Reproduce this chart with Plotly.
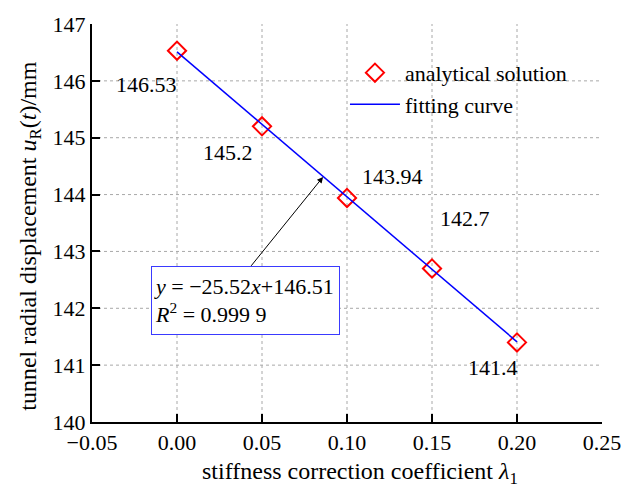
import plotly.graph_objects as go

# ---- data ----
lam = [0.00, 0.05, 0.10, 0.15, 0.20]
u_r = [146.53, 145.2, 143.94, 142.7, 141.4]
labels = ["146.53", "145.2", "143.94", "142.7", "141.4"]
fit_x = [0.00, 0.20]
fit_y = [146.51, 141.41]
x_ticks = [-0.05, 0.00, 0.05, 0.10, 0.15, 0.20, 0.25]
y_ticks = [140, 141, 142, 143, 144, 145, 146, 147]
x_grid = [0.00, 0.05, 0.10, 0.15, 0.20]
y_grid = [141, 142, 143, 144, 145, 146]
x_title = "stiffness correction coefficient <i>λ</i><sub>1</sub>"
y_title = "tunnel radial displacement <i>u</i><sub>R</sub>(<i>t</i>)/mm"

# label pixel offsets (style)
label_shift = [(-31, -34), (-34, -26), (45, 21), (33, 50), (-24, -25)]

FONT = "Liberation Serif, Times New Roman, serif"
FS = 22

fig = go.Figure()

# dashed grid lines
for xv in x_grid:
    fig.add_shape(type="line", x0=xv, x1=xv, y0=0, y1=1, xref="x", yref="paper",
                  line=dict(color="#a8a8a8", width=1, dash="3px,3px"), layer="below")
for yv in y_grid:
    fig.add_shape(type="line", x0=0, x1=1, y0=yv, y1=yv, xref="paper", yref="y",
                  line=dict(color="#a8a8a8", width=1, dash="3px,3px"), layer="below")

fig.add_trace(go.Scatter(
    x=lam, y=u_r, mode="markers", name="analytical solution",
    marker=dict(symbol="diamond-open", size=14, color="#ff0000",
                line=dict(width=2, color="#ff0000")),
))
fig.add_trace(go.Scatter(
    x=fit_x, y=fit_y, mode="lines", name="fitting curve",
    line=dict(color="#0000ff", width=1.5),
))

for xv, yv, t, (dx, dy) in zip(lam, u_r, labels, label_shift):
    fig.add_annotation(x=xv, y=yv, text=t, showarrow=False,
                       xshift=dx, yshift=dy,
                       font=dict(family=FONT, size=FS, color="black"))

# equation box
fig.add_annotation(
    x=0.0403, y=142.13, xref="x", yref="y",
    text="<i>y</i> = −25.52<i>x</i>+146.51<br><i>R</i><sup>2</sup> = 0.999 9",
    showarrow=False, align="left", width=183, height=63,
    bordercolor="#3a3aff", borderwidth=1, borderpad=2, bgcolor="white",
    font=dict(family=FONT, size=FS, color="black"),
)
# arrow
fig.add_annotation(
    x=0.0859, y=144.31, ax=0.0429, ay=142.72,
    xref="x", yref="y", axref="x", ayref="y",
    text="", showarrow=True, arrowhead=2, arrowsize=1.2,
    arrowwidth=1, arrowcolor="black",
)

# axis titles
fig.add_annotation(x=0.525, y=-0.128, xref="paper", yref="paper",
                   text=x_title, showarrow=False,
                   xanchor="center", yanchor="middle",
                   font=dict(family=FONT, size=24, color="black"))
fig.add_annotation(x=-0.1216, y=0.468, xref="paper", yref="paper",
                   text=y_title, showarrow=False, textangle=-90,
                   xanchor="center", yanchor="middle",
                   font=dict(family=FONT, size=24, color="black"))

axis_common = dict(
    showline=True, linecolor="black", linewidth=2,
    ticks="inside", ticklen=8, tickwidth=2, tickcolor="black",
    showgrid=False, zeroline=False, mirror=False,
    tickfont=dict(family=FONT, size=FS, color="black"),
)

fig.update_xaxes(range=[-0.05, 0.25], tickvals=x_ticks, tickformat=".2f",
                 **axis_common)
fig.update_yaxes(range=[140, 147], tickvals=y_ticks, **axis_common)

fig.update_layout(
    width=638, height=489,
    margin=dict(l=92, r=36, t=16, b=67),
    paper_bgcolor="white", plot_bgcolor="white",
    font=dict(family=FONT, size=FS, color="black"),
    showlegend=True,
    legend=dict(x=0.496, y=0.93, xanchor="left", yanchor="top",
                bgcolor="rgba(0,0,0,0)", borderwidth=0,
                font=dict(family=FONT, size=FS, color="black"),
                itemwidth=50, tracegroupgap=0),
)

fig.write_html("out.html")
